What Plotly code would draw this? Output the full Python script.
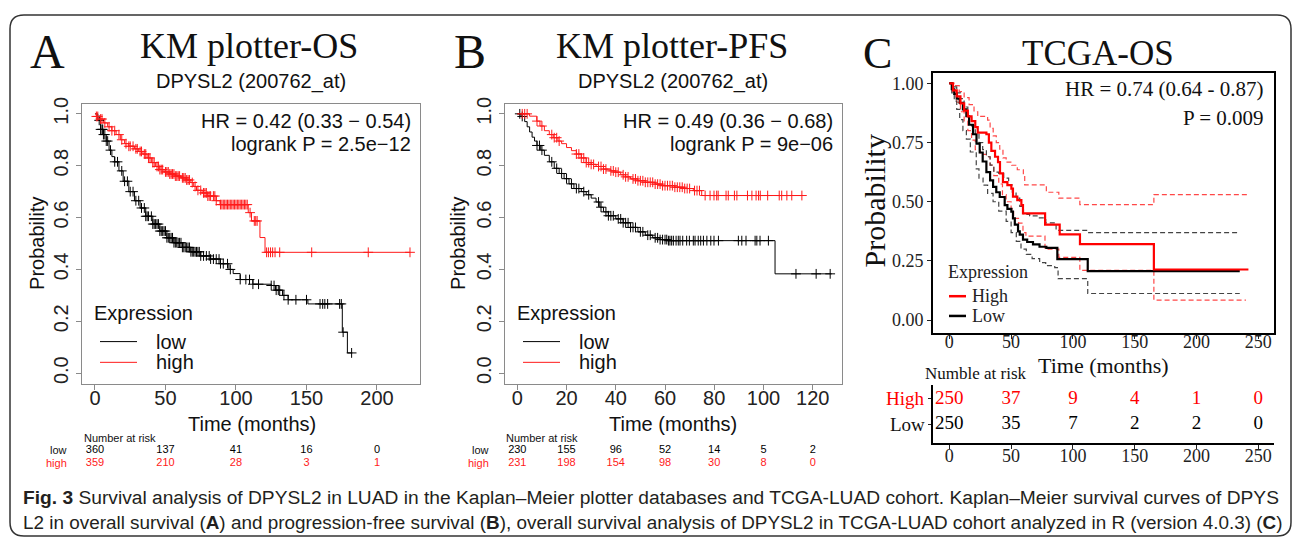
import numpy as np
import plotly.graph_objects as go

W, H = 1295, 540

# ---------------- Panel A : KM plotter OS ----------------
A_low_t = [0, 2, 4, 6, 8, 10, 12, 14, 17, 20, 24, 28, 32, 36, 41, 46, 51, 56, 62, 68, 75, 82, 89, 95, 98, 103,
           112, 125, 128, 133, 137, 151, 175.4, 179, 182.5]
A_low_s = [1.0, 0.975, 0.94, 0.92, 0.895, 0.86, 0.835, 0.815, 0.78, 0.74, 0.70, 0.665, 0.637, 0.605, 0.575, 0.548,
           0.522, 0.503, 0.485, 0.468, 0.452, 0.44, 0.422, 0.40, 0.384, 0.361, 0.343, 0.338, 0.32, 0.30, 0.283,
           0.267, 0.158, 0.078, 0.078]
A_low_cens = [3, 4, 5, 5.5, 6, 7, 8, 9, 11, 14, 16, 19, 21, 23, 25, 27, 29, 31, 33, 35, 36, 37, 38, 40, 41, 42, 43,
              44, 45, 46, 47, 48, 49, 50, 51, 52, 53, 54, 55, 56, 57, 58, 59, 60, 61, 62, 63, 64, 65, 66, 67, 68,
              69, 70, 71, 72, 73, 74, 75, 77, 79, 81, 82, 84, 86, 88, 89, 91, 94, 96, 103, 107, 109.6, 112, 116,
              125, 127, 128.5, 130, 131, 134, 137, 142.5, 150, 159.6, 161.5, 163, 165, 173.5, 174.7, 176, 182]
A_high_t = [0, 1, 3, 6, 9, 12, 15, 18, 21, 24, 28, 31, 34, 37, 40, 43, 46, 49, 53, 57, 61, 65, 68, 70, 72, 76, 80,
            86, 88.7, 108.7, 111, 117, 120.6, 223.4]
A_high_s = [1.0, 0.99, 0.98, 0.965, 0.95, 0.935, 0.92, 0.90, 0.885, 0.875, 0.865, 0.855, 0.845, 0.83, 0.812, 0.797,
            0.785, 0.776, 0.768, 0.76, 0.753, 0.745, 0.735, 0.72, 0.705, 0.695, 0.683, 0.665, 0.65, 0.619, 0.587,
            0.523, 0.466, 0.466]
A_high_cens = [1, 2, 4, 5, 7, 10, 12, 14, 17, 19, 22, 24, 25, 27, 29, 30, 32, 33, 35, 36, 38, 39, 41, 42, 44, 45,
               46, 47, 48, 50, 51, 52, 53, 54, 55, 56, 57, 58, 59, 60, 62, 63, 64, 65, 66, 67, 69, 71, 73, 75, 77,
               78, 79, 80, 81, 82, 84, 85, 86, 89, 90, 91, 92, 93, 94, 95, 96, 97, 98, 99, 100, 101, 102, 103, 104,
               105, 106, 107, 108, 110, 113, 114, 115, 121.7, 123, 124.5, 126, 127.7, 131, 153.7, 193.8, 223.4]
A_risk_t = [0, 50, 100, 150, 200]
A_risk_low = [360, 137, 41, 16, 0]
A_risk_high = [359, 210, 28, 3, 1]

# ---------------- Panel B : KM plotter PFS ----------------
B_low_t = [0, 1.5, 3, 4, 5, 6, 7, 8, 9.5, 11, 13, 15, 17, 19, 21, 23, 26, 28, 30, 32, 33.5, 35, 37, 40, 43, 46, 49,
           52, 55, 58, 61, 104.7, 127.7]
B_low_s = [1.0, 0.99, 0.97, 0.95, 0.93, 0.91, 0.895, 0.878, 0.86, 0.84, 0.815, 0.79, 0.77, 0.75, 0.73, 0.712, 0.70,
           0.688, 0.675, 0.66, 0.64, 0.622, 0.607, 0.595, 0.58, 0.562, 0.545, 0.532, 0.522, 0.515, 0.511, 0.383,
           0.383]
B_low_cens = [1, 2, 8, 9, 10, 14, 16, 18, 20, 22, 24, 25, 27, 29, 33, 34, 36, 37, 38, 39, 41, 42, 43, 44, 45, 46,
              47, 48, 50, 51, 53, 54, 56, 57, 58, 59, 60.0, 60.7, 61.4, 62.0, 62.7, 63.4, 64.5, 65.4, 66.1, 67.2,
              68.8, 69.9, 71.5, 72.2, 73.5, 74.5, 75.6, 77.0, 78.6, 79.9, 81.7, 89.8, 91.2, 92.9, 96.6, 97.3, 98.6,
              102.0, 113.2, 121.4, 127.1]
B_high_t = [0, 5, 7.9, 9.2, 11, 13, 14.6, 16.5, 18, 20, 22, 24, 26, 28, 30, 32, 35, 38, 40, 42, 44, 46, 49, 52, 56,
            59, 64, 68, 71.5, 74.9, 116.2]
B_high_s = [1.0, 0.991, 0.972, 0.953, 0.935, 0.92, 0.908, 0.895, 0.885, 0.87, 0.858, 0.845, 0.83, 0.812, 0.805,
            0.797, 0.787, 0.78, 0.775, 0.765, 0.757, 0.749, 0.742, 0.736, 0.729, 0.723, 0.717, 0.712, 0.704, 0.685,
            0.685]
B_high_cens = [2, 3, 4, 8, 10, 14, 15, 16, 17, 24, 25, 26, 27, 28, 29, 30, 31, 33, 34, 35, 36, 38, 39, 40, 41, 43,
               44, 45, 47, 48, 49, 50, 51, 52, 53, 54, 55, 56, 57, 58, 59, 60, 61, 62, 63, 64, 65, 66, 67, 68, 69,
               70, 72, 73, 74, 76.3, 78.3, 79.9, 81, 81.6, 84.8, 85.7, 88.2, 89.2, 93.5, 95.3, 97, 98, 98.7, 101.7,
               106.4, 107.4, 109.5, 111.5, 115.6]
B_risk_t = [0, 20, 40, 60, 80, 100, 120]
B_risk_low = [230, 155, 96, 52, 14, 5, 2]
B_risk_high = [231, 198, 154, 98, 30, 8, 0]

# ---------------- Panel C : TCGA OS ----------------
C_high_t = [0, 3, 6, 9, 12, 15, 18, 21, 23, 30, 32, 34, 37, 39.4, 41, 43.4, 47, 50.2, 51.5, 55, 58.3, 59.6, 77.5,
            89.3, 105.7, 165.5, 242]
C_high_s = [1.0, 0.97, 0.945, 0.915, 0.885, 0.86, 0.84, 0.815, 0.792, 0.785, 0.75, 0.715, 0.69, 0.667, 0.62, 0.583,
            0.57, 0.555, 0.522, 0.507, 0.486, 0.451, 0.403, 0.3625, 0.321, 0.214, 0.214]
C_high_up_t = [0, 4, 8, 12, 16, 20, 23, 31, 33, 35.5, 38, 40.8, 43.4, 46, 50.5, 55, 59.9, 61, 78.5, 88.6, 105.6,
               165.5, 242]
C_high_up_s = [1.0, 0.99, 0.965, 0.94, 0.91, 0.88, 0.86, 0.845, 0.81, 0.778, 0.75, 0.722, 0.685, 0.667, 0.654, 0.635,
               0.6125, 0.571, 0.54, 0.515, 0.4875, 0.53, 0.53]
C_high_lo_t = [0, 3, 6, 9, 12, 15, 18, 21, 25, 30, 33, 36, 40, 43, 46, 50, 52, 56, 59.6, 62, 77.4, 88.6, 105.6,
               165.5, 240]
C_high_lo_s = [1.0, 0.96, 0.92, 0.88, 0.84, 0.80, 0.76, 0.72, 0.70, 0.69, 0.655, 0.61, 0.575, 0.53, 0.50, 0.47, 0.43,
               0.41, 0.37, 0.355, 0.30, 0.265, 0.21, 0.085, 0.085]
C_low_t = [0, 2, 4, 6, 8.4, 11, 13.8, 16, 19.2, 22, 24.6, 27, 30, 33, 35.4, 38, 40.8, 44.8, 47, 50.2, 51.5, 53,
           55.6, 57, 59.6, 63, 67.7, 73, 78.5, 87.4, 112, 235]
C_low_s = [1.0, 0.975, 0.955, 0.935, 0.917, 0.89, 0.861, 0.825, 0.785, 0.745, 0.708, 0.67, 0.625, 0.59, 0.5625,
           0.54, 0.52, 0.486, 0.47, 0.458, 0.43, 0.403, 0.375, 0.361, 0.34, 0.33, 0.32, 0.31, 0.305, 0.258, 0.207,
           0.207]
C_low_up_t = [0, 3, 6, 9, 12, 15, 18, 21, 24, 27, 30, 33, 36, 40, 44, 48, 51, 54, 57, 60, 65, 71, 78, 86.4, 112,
              235]
C_low_up_s = [1.0, 0.985, 0.96, 0.935, 0.90, 0.86, 0.82, 0.785, 0.75, 0.72, 0.69, 0.655, 0.625, 0.62, 0.60, 0.57,
              0.54, 0.515, 0.48, 0.447, 0.44, 0.432, 0.411, 0.379, 0.37, 0.37]
C_low_lo_t = [0, 2, 4, 6, 8.4, 11, 13.8, 17, 21.8, 24, 27.3, 31, 35.4, 40, 46, 50, 54.2, 58, 62.3, 67, 73.1, 78,
              85.3, 88, 112, 235]
C_low_lo_s = [1.0, 0.96, 0.925, 0.89, 0.847, 0.80, 0.764, 0.71, 0.639, 0.60, 0.57, 0.535, 0.50, 0.46, 0.417, 0.37,
              0.333, 0.30, 0.278, 0.26, 0.243, 0.23, 0.222, 0.175, 0.1125, 0.1125]
C_risk_t = [0, 50, 100, 150, 200, 250]
C_risk_high = [250, 37, 9, 4, 1, 0]
C_risk_low = [250, 35, 7, 2, 2, 0]

SANS = "Liberation Sans, Arial, sans-serif"
SERIF = "Liberation Serif, Times New Roman, serif"
RED = "#ff1a1a"


def step_at(ts, ss, tq):
    ts = np.asarray(ts)
    ss = np.asarray(ss)
    idx = np.searchsorted(ts, np.asarray(tq), side="right") - 1
    return ss[np.clip(idx, 0, len(ss) - 1)]


def px(x):
    return x / W


def py(y):
    return 1 - y / H


fig = go.Figure()


def km(t, s, color, xa, ya, width=1.0, dash="solid"):
    fig.add_trace(go.Scatter(x=t, y=s, mode="lines", line=dict(color=color, width=width, shape="hv", dash=dash),
                             xaxis=xa, yaxis=ya, showlegend=False, hoverinfo="skip"))


def cens(t, ts, ss, color, xa, ya, size=7):
    fig.add_trace(go.Scatter(x=t, y=step_at(ts, ss, t), mode="markers",
                             marker=dict(symbol="cross-thin", size=size, line=dict(width=1, color=color)),
                             xaxis=xa, yaxis=ya, showlegend=False, hoverinfo="skip"))


# Panel A
km(A_low_t, A_low_s, "black", "x", "y")
km(A_high_t, A_high_s, RED, "x", "y")
cens(A_low_cens, A_low_t, A_low_s, "black", "x", "y")
cens(A_high_cens, A_high_t, A_high_s, RED, "x", "y")
# Panel B
km(B_low_t, B_low_s, "black", "x2", "y2")
km(B_high_t, B_high_s, RED, "x2", "y2")
cens(B_low_cens, B_low_t, B_low_s, "black", "x2", "y2")
cens(B_high_cens, B_high_t, B_high_s, RED, "x2", "y2")
# Panel C
CI_DASH = "5px,3px"
km(C_high_up_t, C_high_up_s, "rgba(255,40,40,0.85)", "x3", "y3", 1.2, CI_DASH)
km(C_high_lo_t, C_high_lo_s, "rgba(255,40,40,0.85)", "x3", "y3", 1.2, CI_DASH)
km(C_low_up_t, C_low_up_s, "#444", "x3", "y3", 1.2, CI_DASH)
km(C_low_lo_t, C_low_lo_s, "#444", "x3", "y3", 1.2, CI_DASH)
km(C_low_t, C_low_s, "black", "x3", "y3", 2.2)
km(C_high_t, C_high_s, "#ff0000", "x3", "y3", 2.2)


# risk tables
def risk(t, vals, row, color, xa, ya, size, family):
    fig.add_trace(go.Scatter(x=t, y=[row] * len(t), text=[str(v) for v in vals], mode="text",
                             textfont=dict(color=color, size=size, family=family), textposition="middle center",
                             xaxis=xa, yaxis=ya, showlegend=False, hoverinfo="skip"))


risk(A_risk_t, A_risk_low, 0.778, "black", "x5", "y5", 11, SANS)
risk(A_risk_t, A_risk_high, 0.296, RED, "x5", "y5", 11, SANS)
risk(B_risk_t, B_risk_low, 0.778, "black", "x6", "y6", 11, SANS)
risk(B_risk_t, B_risk_high, 0.296, RED, "x6", "y6", 11, SANS)
risk(C_risk_t, C_risk_high, 0.763, "#ff0000", "x4", "y4", 19, SERIF)
risk(C_risk_t, C_risk_low, 0.322, "black", "x4", "y4", 19, SERIF)

AB_frame = dict(showline=True, mirror=True, linecolor="#8a8a8a", linewidth=1, ticks="outside", ticklen=5,
                tickcolor="#8a8a8a", showgrid=False, zeroline=False,
                tickfont=dict(family=SANS, size=20, color="#222"))
ydom_ab = [py(382), py(98)]
prob_ticks = dict(tickvals=[0, 0.2, 0.4, 0.6, 0.8, 1.0], ticktext=["0.0", "0.2", "0.4", "0.6", "0.8", "1.0"],
                  tickangle=-90)
C_frame = dict(showline=True, mirror=True, linecolor="black", linewidth=1.6, ticks="outside", ticklen=4,
               tickcolor="#222", showgrid=False, zeroline=False, tickfont=dict(family=SERIF, size=18, color="#222"))
hidden = dict(visible=False, showgrid=False, zeroline=False)

fig.update_layout(
    width=W, height=H, margin=dict(l=0, r=0, t=0, b=0), paper_bgcolor="white", plot_bgcolor="white",
    showlegend=False,
    xaxis=dict(domain=[px(82), px(420)], range=[-9.2, 230.5], tickvals=[0, 50, 100, 150, 200], anchor="y",
               ticklabelstandoff=-9, **AB_frame),
    yaxis=dict(domain=ydom_ab, range=[-0.042, 1.039], anchor="x", **prob_ticks, **AB_frame),
    xaxis2=dict(domain=[px(505), px(842)], range=[-5, 131.9], tickvals=[0, 20, 40, 60, 80, 100, 120],
                anchor="y2", ticklabelstandoff=-9, **AB_frame),
    yaxis2=dict(domain=ydom_ab, range=[-0.042, 1.039], anchor="x2", **prob_ticks, **AB_frame),
    xaxis3=dict(domain=[px(933), px(1274)], range=[-13.2, 262.7], tickvals=[0, 50, 100, 150, 200, 250],
                anchor="y3", ticklabelstandoff=-12, **C_frame),
    yaxis3=dict(domain=[py(330), py(67)], range=[-0.053, 1.043], tickvals=[0, 0.25, 0.5, 0.75, 1.0],
                ticktext=["0.00", "0.25", "0.50", "0.75", "1.00"], anchor="x3", **C_frame),
    xaxis4=dict(domain=[px(933), px(1274)], range=[-13.2, 262.7], tickvals=[0, 50, 100, 150, 200, 250],
                anchor="y4", showline=True, linecolor="black", linewidth=1.6, ticks="outside", ticklen=4,
                tickcolor="#222", showgrid=False, zeroline=False, ticklabelstandoff=-9,
                tickfont=dict(family=SERIF, size=18, color="#222")),
    yaxis4=dict(domain=[py(442), py(383)], range=[0, 1], tickvals=[0.322, 0.763], ticktext=["", ""],
                anchor="x4", showline=True, linecolor="black", linewidth=1.6, ticks="outside", ticklen=3,
                tickcolor="#222", showgrid=False, zeroline=False),
    xaxis5=dict(domain=[px(82), px(420)], range=[-9.2, 230.5], anchor="y5", **hidden),
    yaxis5=dict(domain=[py(470), py(443)], range=[0, 1], anchor="x5", **hidden),
    xaxis6=dict(domain=[px(505), px(842)], range=[-5, 131.9], anchor="y6", **hidden),
    yaxis6=dict(domain=[py(470), py(443)], range=[0, 1], anchor="x6", **hidden),
)

anns = []


def ann(x, y, text, size, family=SANS, color="#111", xanchor="center", angle=0):
    anns.append(dict(x=px(x), y=py(y), xref="paper", yref="paper", text=text, showarrow=False,
                     xanchor=xanchor, yanchor="middle", textangle=angle,
                     font=dict(size=size, family=family, color=color)))


# Panel A texts
ann(47, 45, "A", 48, SERIF, "#111")
ann(249, 40, "KM plotter-OS", 36, SERIF, "#111")
ann(251, 75, "DPYSL2 (200762_at)", 20)
ann(413, 116, "HR = 0.42 (0.33 − 0.54)", 20, xanchor="right")
ann(413, 139, "logrank P = 2.5e−12", 20, xanchor="right")
ann(37, 240, "Probability", 20, angle=-90)
ann(252, 422, "Time (months)", 20)
ann(92, 310, "Expression", 20, xanchor="left")
ann(154, 339, "low", 20, xanchor="left")
ann(154, 360, "high", 20, xanchor="left")
ann(82, 437, "Number at risk", 11, SANS, xanchor="left")
ann(69, 449, "low", 11, SANS, xanchor="right")
ann(69, 462, "high", 11, SANS, RED, xanchor="right")
# Panel B texts
ann(470, 45, "B", 48, SERIF, "#111")
ann(672, 40, "KM plotter-PFS", 36, SERIF, "#111")
ann(673, 75, "DPYSL2 (200762_at)", 20)
ann(835, 116, "HR = 0.49 (0.36 − 0.68)", 20, xanchor="right")
ann(835, 139, "logrank P = 9e−06", 20, xanchor="right")
ann(458, 240, "Probability", 20, angle=-90)
ann(673, 422, "Time (months)", 20)
ann(515, 310, "Expression", 20, xanchor="left")
ann(577, 339, "low", 20, xanchor="left")
ann(577, 360, "high", 20, xanchor="left")
ann(504, 437, "Number at risk", 11, SANS, xanchor="left")
ann(491, 449, "low", 11, SANS, xanchor="right")
ann(491, 462, "high", 11, SANS, RED, xanchor="right")
# Panel C texts
ann(877, 47, "C", 44, SERIF, "#111")
ann(1098, 47, "TCGA-OS", 35, SERIF, "#111")
ann(1266, 83, "HR = 0.74 (0.64 - 0.87)", 21, SERIF, xanchor="right")
ann(1266, 112, "P = 0.009", 21, SERIF, xanchor="right")
ann(874, 197, "Probability", 30, SERIF, angle=-90)
ann(1103, 363, "Time (months)", 22, SERIF)
ann(946, 268, "Expression", 18, SERIF, "#222", xanchor="left")
ann(970, 293, "High", 18, SERIF, "#222", xanchor="left")
ann(970, 313, "Low", 18, SERIF, "#222", xanchor="left")
ann(923, 371, "Numble at risk", 17, SERIF, "#111", xanchor="left")
ann(927, 397, "High", 19, SERIF, "#ff0000", xanchor="right")
ann(927, 423, "Low", 19, SERIF, "#111", xanchor="right")
# Caption
ann(21, 497, "<b>Fig. 3</b> Survival analysis of DPYSL2 in LUAD in the Kaplan–Meier plotter databases and "
             "TCGA-LUAD cohort. Kaplan–Meier survival curves of DPYS", 19.2, SANS, "#231f20", xanchor="left")
ann(21, 522, "L2 in overall survival (<b>A</b>) and progression-free survival (<b>B</b>), overall survival "
             "analysis of DPYSL2 in TCGA-LUAD cohort analyzed in R (version 4.0.3) (<b>C</b>)", 18.9, SANS,
    "#231f20", xanchor="left")
fig.update_layout(annotations=anns)

shapes = []


def seg(x0, y0, x1, y1, color, width):
    shapes.append(dict(type="line", xref="paper", yref="paper", x0=px(x0), y0=py(y0), x1=px(x1), y1=py(y1),
                       line=dict(color=color, width=width)))


seg(100, 339, 137, 339, "black", 1)
seg(100, 360, 137, 360, RED, 1)
seg(523, 339, 560, 339, "black", 1)
seg(523, 360, 560, 360, RED, 1)
seg(949, 293, 966, 293, "#ff0000", 2.5)
seg(949, 313, 966, 313, "black", 2.5)

# rounded outer border
x0, x1, yt, yb, r = 10, 1291, 8, 536, 14
path = (f"M {px(x0 + r)},{py(yt)} L {px(x1 - r)},{py(yt)} Q {px(x1)},{py(yt)} {px(x1)},{py(yt + r)} "
        f"L {px(x1)},{py(yb - r)} Q {px(x1)},{py(yb)} {px(x1 - r)},{py(yb)} "
        f"L {px(x0 + r)},{py(yb)} Q {px(x0)},{py(yb)} {px(x0)},{py(yb - r)} "
        f"L {px(x0)},{py(yt + r)} Q {px(x0)},{py(yt)} {px(x0 + r)},{py(yt)} Z")
shapes.append(dict(type="path", xref="paper", yref="paper", path=path, line=dict(color="#333", width=1.5)))
fig.update_layout(shapes=shapes)

fig.write_html("out.html", config={"displayModeBar": False},
               post_script="document.body.style.margin='0';document.body.style.padding='0';"
                           "document.body.style.overflow='hidden';")
